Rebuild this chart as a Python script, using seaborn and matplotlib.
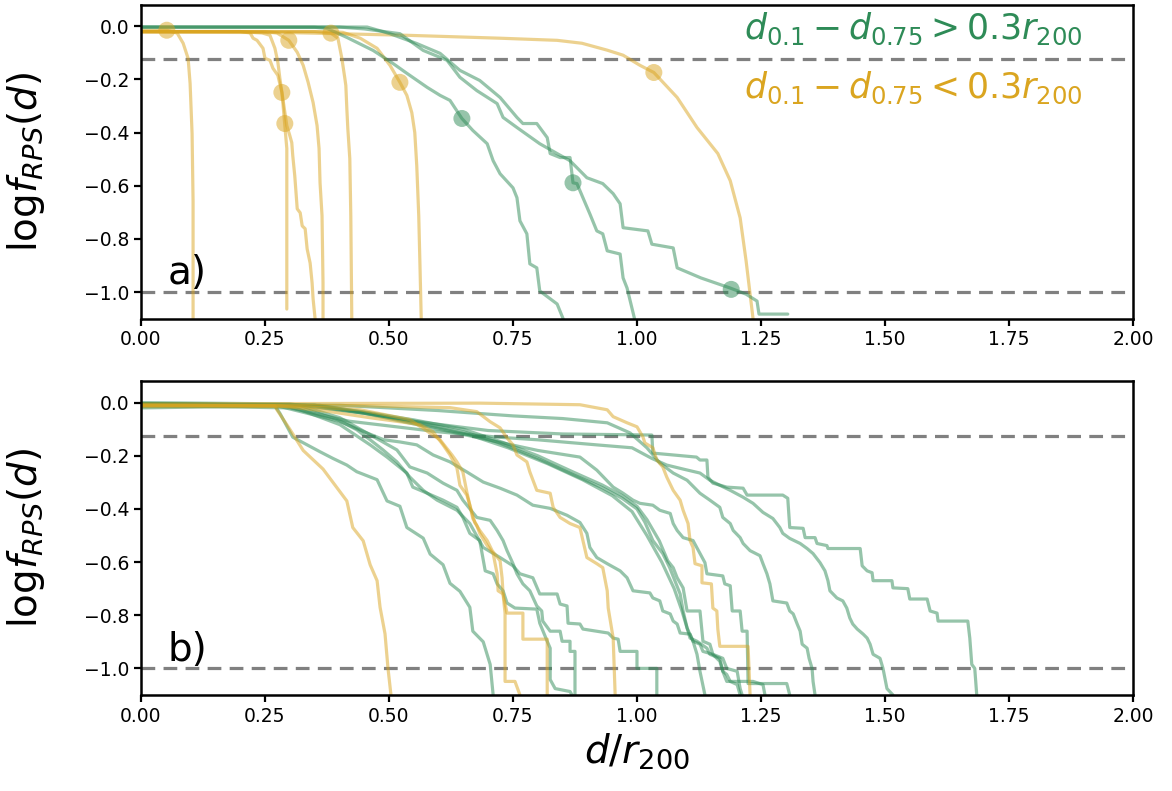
import numpy as np
import pandas as pd
import matplotlib
matplotlib.use("Agg")
import matplotlib.pyplot as plt
import seaborn as sns

# ---------------- data ----------------
# Panel a) : orange curves  (d_0.1 - d_0.75 < 0.3 r200)
A_O0 = [(0,-0.015),(0.052,-0.015),(0.073,-0.026),(0.085,-0.064),(0.095,-0.121),(0.099,-0.215),(0.103,-0.404),(0.105,-0.657),(0.105,-1.1)]
A_O1 = [(0,-0.02),(0.20,-0.02),(0.22,-0.025),(0.226,-0.045),(0.234,-0.053),(0.246,-0.083),(0.25,-0.121),(0.26,-0.128),(0.266,-0.158),(0.276,-0.185),(0.284,-0.249),(0.286,-0.287),(0.29,-0.374),(0.294,-0.46),(0.294,-1.064)]
A_O2 = [(0,-0.02),(0.20,-0.02),(0.244,-0.025),(0.26,-0.034),(0.27,-0.083),(0.276,-0.136),(0.28,-0.196),(0.286,-0.272),(0.294,-0.374),(0.30,-0.411),(0.304,-0.438),(0.306,-0.487),(0.31,-0.562),(0.315,-0.687),(0.321,-0.702),(0.325,-0.751),(0.331,-0.762),(0.335,-0.838),(0.341,-0.891),(0.345,-0.966),(0.347,-1.026),(0.351,-1.1)]
A_O3 = [(0,-0.02),(0.25,-0.02),(0.274,-0.025),(0.298,-0.053),(0.315,-0.098),(0.327,-0.147),(0.337,-0.211),(0.347,-0.287),(0.355,-0.374),(0.359,-0.46),(0.361,-0.589),(0.365,-0.713),(0.367,-0.966),(0.367,-1.1)]
A_O4 = [(0,-0.02),(0.35,-0.02),(0.383,-0.026),(0.397,-0.045),(0.405,-0.121),(0.411,-0.196),(0.413,-0.223),(0.415,-0.309),(0.417,-0.385),(0.421,-0.498),(0.423,-0.713),(0.425,-1.1)]
A_O5 = [(0,-0.02),(0.38,-0.02),(0.407,-0.023),(0.442,-0.045),(0.476,-0.083),(0.502,-0.147),(0.522,-0.211),(0.536,-0.26),(0.546,-0.325),(0.552,-0.40),(0.556,-0.525),(0.56,-0.713),(0.5625,-0.902),(0.565,-1.1)]
A_O6 = [(0,-0.022),(0.30,-0.024),(0.536,-0.034),(0.724,-0.045),(0.839,-0.053),(0.889,-0.064),(0.94,-0.09),(0.972,-0.109),(1.006,-0.147),(1.034,-0.174),(1.081,-0.268),(1.121,-0.381),(1.163,-0.479),(1.188,-0.581),(1.208,-0.721),(1.22,-0.883),(1.234,-1.1)]
# Panel a) : green curves (d_0.1 - d_0.75 > 0.3 r200)
A_G1 = [(0,-0.003),(0.35,-0.004),(0.375,-0.008),(0.415,-0.042),(0.468,-0.091),(0.508,-0.14),(0.536,-0.177),(0.577,-0.23),(0.603,-0.26),(0.623,-0.279),(0.647,-0.347),(0.669,-0.392),(0.698,-0.442),(0.71,-0.506),(0.724,-0.555),(0.75,-0.608),(0.758,-0.645),(0.764,-0.732),(0.778,-0.781),(0.784,-0.894),(0.798,-0.909),(0.804,-0.996),(0.839,-1.045),(0.851,-1.1)]
A_G2 = [(0,-0.003),(0.40,-0.003),(0.45,-0.01),(0.522,-0.028),(0.569,-0.091),(0.617,-0.128),(0.643,-0.192),(0.677,-0.242),(0.718,-0.291),(0.73,-0.343),(0.758,-0.381),(0.804,-0.442),(0.839,-0.479),(0.865,-0.506),(0.899,-0.57),(0.931,-0.592),(0.952,-0.63),(0.966,-0.668),(0.972,-0.758),(1.022,-0.77),(1.03,-0.82),(1.073,-0.834),(1.081,-0.909),(1.129,-0.947),(1.188,-0.985),(1.22,-1.008),(1.242,-1.034),(1.246,-1.083),(1.304,-1.083)]
A_G3 = [(0,-0.003),(0.456,-0.003),(0.502,-0.028),(0.556,-0.065),(0.603,-0.102),(0.643,-0.166),(0.683,-0.204),(0.724,-0.268),(0.758,-0.343),(0.77,-0.366),(0.798,-0.366),(0.819,-0.419),(0.825,-0.479),(0.845,-0.494),(0.865,-0.494),(0.871,-0.589),(0.879,-0.592),(0.891,-0.645),(0.905,-0.706),(0.919,-0.77),(0.931,-0.781),(0.94,-0.845),(0.966,-0.857),(0.972,-0.947),(0.98,-0.985),(0.995,-1.1)]

# circle markers of panel a)
A_MARK_ORANGE_X = [0.052, 0.284, 0.29, 0.298, 0.383, 0.522, 1.034]
A_MARK_ORANGE_Y = [-0.015, -0.249, -0.366, -0.053, -0.026, -0.211, -0.174]
A_MARK_GREEN_X = [0.647, 0.871, 1.19]
A_MARK_GREEN_Y = [-0.347, -0.589, -0.99]

# Panel b) : orange curves
B_O1 = [(0,-0.01),(0.27,-0.012),(0.274,-0.027),(0.30,-0.10),(0.327,-0.18),(0.367,-0.25),(0.395,-0.32),(0.415,-0.37),(0.427,-0.47),(0.448,-0.52),(0.462,-0.61),(0.476,-0.67),(0.482,-0.77),(0.492,-0.87),(0.498,-1.0),(0.504,-1.1)]
B_O2 = [(0,-0.01),(0.28,-0.012),(0.381,-0.034),(0.462,-0.057),(0.522,-0.072),(0.5625,-0.083),(0.589,-0.11),(0.609,-0.159),(0.623,-0.197),(0.637,-0.246),(0.643,-0.311),(0.657,-0.348),(0.663,-0.386),(0.669,-0.436),(0.677,-0.462),(0.683,-0.492),(0.698,-0.538),(0.71,-0.568),(0.718,-0.644),(0.72,-0.708),(0.73,-0.72),(0.734,-0.792),(0.734,-1.049),(0.754,-1.049),(0.764,-1.1)]
B_O3 = [(0,-0.015),(0.321,-0.015),(0.442,-0.027),(0.542,-0.064),(0.603,-0.14),(0.627,-0.197),(0.637,-0.223),(0.649,-0.261),(0.657,-0.337),(0.663,-0.386),(0.673,-0.451),(0.683,-0.481),(0.698,-0.519),(0.708,-0.557),(0.724,-0.595),(0.728,-0.659),(0.73,-0.72),(0.738,-0.792),(0.77,-0.792),(0.77,-0.89),(0.819,-0.89),(0.819,-1.1)]
B_O4 = [(0,-0.01),(0.45,-0.012),(0.623,-0.019),(0.677,-0.034),(0.704,-0.072),(0.724,-0.095),(0.738,-0.133),(0.75,-0.159),(0.758,-0.197),(0.778,-0.223),(0.784,-0.261),(0.798,-0.33),(0.825,-0.341),(0.831,-0.394),(0.845,-0.432),(0.865,-0.455),(0.885,-0.47),(0.891,-0.519),(0.899,-0.583),(0.919,-0.606),(0.931,-0.621),(0.94,-0.708),(0.942,-0.773),(0.952,-0.886),(0.956,-1.1)]
B_O5 = [(0,-0.005),(0.683,-0.002),(0.885,-0.008),(0.94,-0.027),(0.952,-0.053),(0.98,-0.076),(1.0,-0.091),(1.012,-0.129),(1.016,-0.152),(1.032,-0.17),(1.04,-0.216),(1.052,-0.242),(1.06,-0.28),(1.073,-0.33),(1.087,-0.367),(1.093,-0.405),(1.103,-0.455),(1.107,-0.519),(1.113,-0.545),(1.117,-0.606),(1.131,-0.614),(1.131,-0.678),(1.15,-0.682),(1.153,-0.773),(1.161,-0.784),(1.163,-0.852),(1.167,-0.917),(1.224,-0.917),(1.228,-1.1)]
# Panel b) : green curves
B_G1 = [(0,-0.015),(0.27,-0.012),(0.28,-0.04),(0.306,-0.13),(0.361,-0.185),(0.387,-0.21),(0.415,-0.235),(0.435,-0.26),(0.476,-0.29),(0.496,-0.37),(0.522,-0.39),(0.536,-0.47),(0.569,-0.51),(0.583,-0.57),(0.609,-0.61),(0.623,-0.68),(0.643,-0.71),(0.663,-0.77),(0.669,-0.86),(0.69,-0.9),(0.704,-0.985),(0.71,-1.1)]
B_G2 = [(0,-0.005),(0.28,-0.008),(0.321,-0.027),(0.401,-0.083),(0.462,-0.159),(0.496,-0.205),(0.536,-0.265),(0.548,-0.318),(0.577,-0.341),(0.609,-0.367),(0.637,-0.394),(0.649,-0.432),(0.663,-0.492),(0.683,-0.519),(0.694,-0.633),(0.71,-0.644),(0.718,-0.682),(0.73,-0.708),(0.738,-0.754),(0.754,-0.773),(0.798,-0.777),(0.804,-0.83),(0.819,-0.898),(0.825,-0.924),(0.825,-1.042),(0.835,-1.076),(0.865,-1.087),(0.869,-1.1)]
B_G3 = [(0,-0.02),(0.321,-0.011),(0.401,-0.057),(0.462,-0.121),(0.516,-0.178),(0.542,-0.242),(0.577,-0.265),(0.609,-0.303),(0.637,-0.33),(0.649,-0.367),(0.677,-0.432),(0.704,-0.443),(0.718,-0.481),(0.73,-0.519),(0.738,-0.557),(0.75,-0.606),(0.758,-0.644),(0.77,-0.682),(0.784,-0.708),(0.798,-0.765),(0.808,-0.784),(0.81,-0.822),(0.825,-0.86),(0.845,-0.86),(0.849,-0.898),(0.865,-0.898),(0.865,-0.936),(0.875,-0.936),(0.875,-1.1)]
B_G4 = [(0,-0.005),(0.30,-0.008),(0.335,-0.027),(0.395,-0.064),(0.435,-0.102),(0.462,-0.14),(0.488,-0.178),(0.516,-0.223),(0.542,-0.28),(0.569,-0.33),(0.597,-0.367),(0.637,-0.405),(0.663,-0.455),(0.69,-0.545),(0.724,-0.583),(0.75,-0.614),(0.764,-0.644),(0.79,-0.659),(0.804,-0.72),(0.839,-0.72),(0.845,-0.758),(0.859,-0.765),(0.861,-0.83),(0.885,-0.833),(0.891,-0.852),(0.942,-0.867),(0.952,-0.886),(0.962,-0.89),(0.966,-0.936),(1.0,-0.936),(1.0,-1.0),(1.04,-1.0),(1.04,-1.1)]
B_G5 = [(0,-0.01),(0.27,-0.01),(0.335,-0.04),(0.40,-0.07),(0.45,-0.11),(0.49,-0.14),(0.522,-0.148),(0.556,-0.159),(0.589,-0.197),(0.623,-0.223),(0.657,-0.261),(0.69,-0.299),(0.724,-0.322),(0.758,-0.348),(0.79,-0.386),(0.825,-0.398),(0.859,-0.424),(0.885,-0.451),(0.899,-0.492),(0.905,-0.545),(0.919,-0.583),(0.94,-0.606),(0.966,-0.633),(0.98,-0.659),(0.992,-0.708),(1.026,-0.716),(1.032,-0.735),(1.046,-0.746),(1.052,-0.784),(1.067,-0.795),(1.073,-0.822),(1.081,-0.833),(1.087,-0.867),(1.107,-0.871),(1.113,-0.898),(1.127,-0.909),(1.133,-0.936),(1.153,-0.947),(1.161,-0.962),(1.167,-0.973),(1.173,-1.011),(1.181,-1.023),(1.188,-1.049),(1.202,-1.061),(1.208,-1.1)]
B_G6 = [(0,-0.005),(0.35,-0.01),(0.45,-0.04),(0.55,-0.07),(0.65,-0.11),(0.72,-0.15),(0.80,-0.21),(0.87,-0.27),(0.93,-0.32),(0.97,-0.36),(1.0,-0.40),(1.016,-0.45),(1.032,-0.519),(1.052,-0.568),(1.066,-0.621),(1.087,-0.72),(1.093,-0.784),(1.101,-0.848),(1.113,-0.898),(1.121,-0.947),(1.127,-1.011),(1.137,-1.1)]
B_G7 = [(0,-0.005),(0.35,-0.01),(0.45,-0.035),(0.55,-0.065),(0.65,-0.10),(0.73,-0.15),(0.80,-0.20),(0.87,-0.26),(0.93,-0.31),(0.97,-0.35),(1.0,-0.39),(1.02,-0.44),(1.045,-0.52),(1.062,-0.595),(1.073,-0.621),(1.081,-0.659),(1.093,-0.697),(1.101,-0.784),(1.127,-0.784),(1.133,-0.898),(1.147,-0.909),(1.153,-0.947),(1.173,-0.962),(1.181,-1.0),(1.202,-1.011),(1.208,-1.076),(1.212,-1.1)]
B_G8 = [(0,-0.005),(0.36,-0.01),(0.46,-0.04),(0.56,-0.08),(0.66,-0.12),(0.74,-0.17),(0.82,-0.23),(0.89,-0.29),(0.95,-0.35),(0.99,-0.41),(1.02,-0.50),(1.05,-0.60),(1.075,-0.70),(1.09,-0.78),(1.101,-0.848),(1.107,-0.886),(1.121,-0.898),(1.141,-0.924),(1.147,-0.947),(1.167,-0.962),(1.173,-1.011),(1.181,-1.049),(1.234,-1.049),(1.254,-1.061),(1.258,-1.1)]
B_G9 = [(0,-0.005),(0.33,-0.01),(0.45,-0.04),(0.55,-0.08),(0.65,-0.12),(0.75,-0.16),(0.80,-0.18),(0.885,-0.205),(0.919,-0.254),(0.952,-0.318),(0.972,-0.341),(0.992,-0.367),(1.006,-0.379),(1.032,-0.386),(1.046,-0.405),(1.067,-0.417),(1.073,-0.455),(1.081,-0.481),(1.093,-0.508),(1.113,-0.519),(1.137,-0.602),(1.141,-0.644),(1.173,-0.652),(1.177,-0.682),(1.188,-0.689),(1.192,-0.784),(1.208,-0.784),(1.212,-0.86),(1.222,-0.86),(1.224,-1.057),(1.302,-1.057),(1.308,-1.1)]
B_G10 = [(0,-0.005),(0.40,-0.01),(0.60,-0.03),(0.75,-0.05),(0.85,-0.06),(0.94,-0.076),(0.986,-0.114),(1.02,-0.17),(1.046,-0.227),(1.073,-0.265),(1.101,-0.292),(1.127,-0.341),(1.147,-0.367),(1.167,-0.394),(1.173,-0.432),(1.188,-0.455),(1.194,-0.481),(1.208,-0.508),(1.214,-0.53),(1.228,-0.557),(1.248,-0.576),(1.254,-0.606),(1.262,-0.644),(1.268,-0.682),(1.274,-0.746),(1.302,-0.754),(1.308,-0.784),(1.315,-0.795),(1.323,-0.833),(1.329,-0.86),(1.333,-0.909),(1.343,-0.924),(1.347,-0.962),(1.353,-1.0),(1.355,-1.049),(1.359,-1.1)]
B_G11 = [(0,-0.01),(0.30,-0.02),(0.42,-0.07),(0.60,-0.11),(0.72,-0.13),(0.80,-0.14),(0.925,-0.16),(0.99,-0.17),(1.03,-0.21),(1.06,-0.235),(1.093,-0.25),(1.127,-0.265),(1.147,-0.292),(1.167,-0.311),(1.188,-0.33),(1.214,-0.356),(1.234,-0.379),(1.254,-0.413),(1.274,-0.436),(1.288,-0.47),(1.294,-0.492),(1.308,-0.511),(1.329,-0.53),(1.343,-0.549),(1.355,-0.568),(1.369,-0.602),(1.379,-0.633),(1.385,-0.67),(1.389,-0.708),(1.403,-0.735),(1.415,-0.746),(1.423,-0.773),(1.429,-0.81),(1.435,-0.833),(1.444,-0.852),(1.456,-0.871),(1.464,-0.886),(1.47,-0.909),(1.476,-0.947),(1.49,-0.962),(1.496,-1.0),(1.5,-1.038),(1.504,-1.076),(1.516,-1.1)]
B_G12 = [(0,-0.0),(0.30,-0.005),(0.45,-0.04),(0.55,-0.07),(0.70,-0.105),(0.85,-0.118),(1.03,-0.122),(1.032,-0.19),(1.12,-0.205),(1.127,-0.216),(1.141,-0.216),(1.143,-0.28),(1.153,-0.303),(1.181,-0.318),(1.214,-0.322),(1.222,-0.348),(1.294,-0.348),(1.304,-0.36),(1.308,-0.47),(1.335,-0.473),(1.339,-0.508),(1.359,-0.508),(1.363,-0.53),(1.383,-0.538),(1.385,-0.549),(1.45,-0.549),(1.454,-0.614),(1.464,-0.633),(1.474,-0.64),(1.476,-0.67),(1.514,-0.67),(1.516,-0.697),(1.546,-0.7),(1.55,-0.739),(1.585,-0.739),(1.591,-0.784),(1.605,-0.792),(1.607,-0.822),(1.667,-0.822),(1.671,-0.886),(1.675,-0.985),(1.681,-1.0),(1.685,-1.1)]

PANEL_A_CURVES = [("orange", A_O0), ("orange", A_O1), ("orange", A_O2), ("orange", A_O3),
                  ("orange", A_O4), ("orange", A_O5), ("orange", A_O6),
                  ("green", A_G1), ("green", A_G2), ("green", A_G3)]
PANEL_B_CURVES = [("green", B_G1), ("orange", B_O1), ("green", B_G2), ("green", B_G3),
                  ("orange", B_O2), ("green", B_G4), ("orange", B_O3), ("green", B_G5),
                  ("green", B_G6), ("orange", B_O4), ("green", B_G7), ("green", B_G8),
                  ("orange", B_O5), ("green", B_G9), ("green", B_G10), ("green", B_G11),
                  ("green", B_G12)]

FRACTIONS = [0.75, 0.1]          # dashed reference levels (log10)
X_TICKS = [0.0, 0.25, 0.5, 0.75, 1.0, 1.25, 1.5, 1.75, 2.0]
Y_TICKS = [-1.0, -0.8, -0.6, -0.4, -0.2, 0.0]
PANEL_LABELS = ["a)", "b)"]
LEGEND_TEXTS = [r"$d_{0.1}-d_{0.75}>0.3r_{200}$", r"$d_{0.1}-d_{0.75}<0.3r_{200}$"]

GREEN = "seagreen"
ORANGE = "goldenrod"
PALETTE = {"green": GREEN, "orange": ORANGE}


def to_frame(curves):
    rows = []
    for cid, (grp, pts) in enumerate(curves):
        for order, (x, y) in enumerate(pts):
            rows.append({"cid": cid, "grp": grp, "order": order, "x": x, "y": y})
    return pd.DataFrame(rows)


df_a = to_frame(PANEL_A_CURVES)
df_b = to_frame(PANEL_B_CURVES)
marks_a = pd.DataFrame({
    "x": A_MARK_ORANGE_X + A_MARK_GREEN_X,
    "y": A_MARK_ORANGE_Y + A_MARK_GREEN_Y,
    "grp": ["orange"] * len(A_MARK_ORANGE_X) + ["green"] * len(A_MARK_GREEN_X),
})

# ---------------- plotting ----------------
sns.set_style("ticks")
plt.rcParams["font.family"] = ["DejaVu Sans"]
plt.rcParams["mathtext.fontset"] = "dejavusans"
for key in ["text.color", "axes.labelcolor", "xtick.color", "ytick.color", "axes.edgecolor"]:
    plt.rcParams[key] = "black"

fig = plt.figure(figsize=(11.72, 7.91), dpi=100)
axes = fig.subplots(2, 1)
fig.subplots_adjust(left=0.1203, right=0.9667, top=0.9937, bottom=0.1214, hspace=0.2)

DASH = (0, (4.3, 2.6))
YLABEL = r"$\mathrm{log}f_{RPS}(d)$"

for ax, df, lab in zip(axes, [df_a, df_b], PANEL_LABELS):
    sns.lineplot(data=df, x="x", y="y", units="cid", estimator=None, sort=False,
                 hue="grp", palette=PALETTE, alpha=0.5, linewidth=2.3,
                 legend=False, ax=ax)
    for f in FRACTIONS:
        ax.axhline(np.log10(f), color="gray", lw=2.3, ls=DASH, zorder=1)
    ax.set_xlim(0, 2)
    ax.set_ylim(-1.1, 0.08)
    ax.set_xticks(X_TICKS)
    ax.set_xticklabels([f"{v:.2f}" for v in X_TICKS])
    ax.set_yticks(Y_TICKS)
    ax.set_yticklabels([f"{v:.1f}".replace("-", "\u2212") for v in Y_TICKS])
    ax.tick_params(labelsize=13.5, width=1.6, length=5, direction="out", colors="black")
    for sp in ax.spines.values():
        sp.set_linewidth(1.8)
        sp.set_visible(True)
        sp.set_color("black")
    ax.text(0.054, -0.93, lab, fontsize=28, ha="left", va="center")

sns.scatterplot(data=marks_a, x="x", y="y", hue="grp", palette=PALETTE, s=150,
                alpha=0.5, linewidth=0, legend=False, ax=axes[0], zorder=3)

for ax in axes:
    ax.set_xlabel("")
    ax.set_ylabel(YLABEL, fontsize=28)
    ax.yaxis.set_label_coords(-0.095, 0.5)

axes[0].text(0.949, 0.925, LEGEND_TEXTS[0], transform=axes[0].transAxes,
             ha="right", va="center", fontsize=25, color=GREEN)
axes[0].text(0.949, 0.735, LEGEND_TEXTS[1], transform=axes[0].transAxes,
             ha="right", va="center", fontsize=25, color=ORANGE)

axes[1].set_xlabel(r"$d/r_{200}$", fontsize=28)

fig.savefig("out.png", dpi=100)
